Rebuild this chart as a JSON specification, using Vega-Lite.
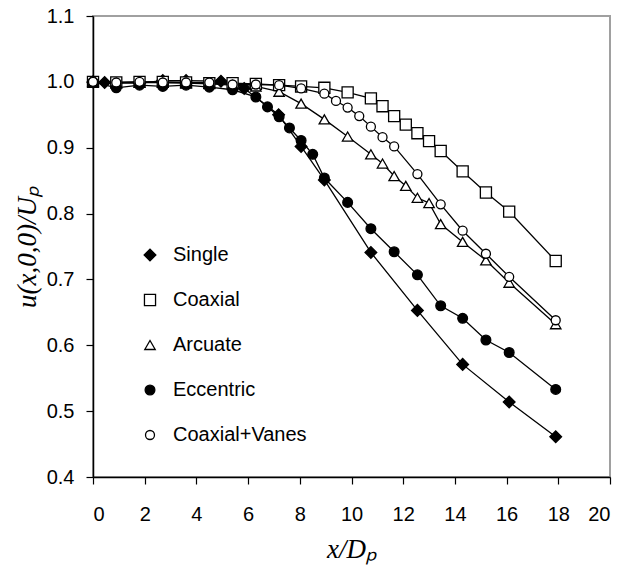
{
  "$schema": "https://vega.github.io/schema/vega-lite/v6.json",
  "autosize": "none",
  "width": 517,
  "height": 461,
  "padding": {"left": 93, "top": 16, "right": 15, "bottom": 90},
  "background": "white",
  "config": {
    "view": {"stroke": "#a0a0a0", "strokeWidth": 2},
    "axis": {
      "domainColor": "black", "domainWidth": 1.5, "tickColor": "black", "tickWidth": 1.2, "tickSize": 7,
      "labelFont": "Liberation Sans", "labelFontSize": 20, "labelColor": "black",
      "titleFont": "Liberation Serif", "titleFontStyle": "italic", "titleFontWeight": "normal", "titleFontSize": 27, "titleColor": "black",
      "grid": false
    }
  },
  "data": {"values": [
    {"series": "Single", "x": 0, "y": 1.0},
    {"series": "Single", "x": 0.45, "y": 0.999},
    {"series": "Single", "x": 1.8, "y": 0.998},
    {"series": "Single", "x": 2.7, "y": 1.002},
    {"series": "Single", "x": 3.6, "y": 1.002},
    {"series": "Single", "x": 4.95, "y": 1.001},
    {"series": "Single", "x": 5.85, "y": 0.990},
    {"series": "Single", "x": 7.18, "y": 0.950},
    {"series": "Single", "x": 8.05, "y": 0.902},
    {"series": "Single", "x": 8.95, "y": 0.851},
    {"series": "Single", "x": 10.75, "y": 0.741},
    {"series": "Single", "x": 12.55, "y": 0.653},
    {"series": "Single", "x": 14.3, "y": 0.571},
    {"series": "Single", "x": 16.1, "y": 0.514},
    {"series": "Single", "x": 17.9, "y": 0.461},
    {"series": "Coaxial", "x": 0, "y": 1.0},
    {"series": "Coaxial", "x": 0.9, "y": 0.999},
    {"series": "Coaxial", "x": 1.8, "y": 1.0},
    {"series": "Coaxial", "x": 2.7, "y": 1.0},
    {"series": "Coaxial", "x": 3.6, "y": 0.999},
    {"series": "Coaxial", "x": 4.5, "y": 0.998},
    {"series": "Coaxial", "x": 5.4, "y": 0.998},
    {"series": "Coaxial", "x": 6.3, "y": 0.997},
    {"series": "Coaxial", "x": 7.2, "y": 0.995},
    {"series": "Coaxial", "x": 8.05, "y": 0.993},
    {"series": "Coaxial", "x": 8.95, "y": 0.991},
    {"series": "Coaxial", "x": 9.85, "y": 0.984},
    {"series": "Coaxial", "x": 10.75, "y": 0.975},
    {"series": "Coaxial", "x": 11.2, "y": 0.963},
    {"series": "Coaxial", "x": 11.65, "y": 0.948},
    {"series": "Coaxial", "x": 12.1, "y": 0.935},
    {"series": "Coaxial", "x": 12.55, "y": 0.922},
    {"series": "Coaxial", "x": 13.0, "y": 0.910},
    {"series": "Coaxial", "x": 13.45, "y": 0.895},
    {"series": "Coaxial", "x": 14.3, "y": 0.864},
    {"series": "Coaxial", "x": 15.2, "y": 0.832},
    {"series": "Coaxial", "x": 16.1, "y": 0.803},
    {"series": "Coaxial", "x": 17.9, "y": 0.728},
    {"series": "Arcuate", "x": 0, "y": 1.0},
    {"series": "Arcuate", "x": 0.9, "y": 0.998},
    {"series": "Arcuate", "x": 1.8, "y": 0.999},
    {"series": "Arcuate", "x": 2.7, "y": 0.999},
    {"series": "Arcuate", "x": 3.6, "y": 0.998},
    {"series": "Arcuate", "x": 4.5, "y": 0.997},
    {"series": "Arcuate", "x": 5.4, "y": 0.995},
    {"series": "Arcuate", "x": 6.3, "y": 0.993},
    {"series": "Arcuate", "x": 7.2, "y": 0.985},
    {"series": "Arcuate", "x": 8.05, "y": 0.967},
    {"series": "Arcuate", "x": 8.95, "y": 0.943},
    {"series": "Arcuate", "x": 9.85, "y": 0.917},
    {"series": "Arcuate", "x": 10.75, "y": 0.890},
    {"series": "Arcuate", "x": 11.2, "y": 0.876},
    {"series": "Arcuate", "x": 11.65, "y": 0.857},
    {"series": "Arcuate", "x": 12.1, "y": 0.842},
    {"series": "Arcuate", "x": 12.55, "y": 0.824},
    {"series": "Arcuate", "x": 13.0, "y": 0.816},
    {"series": "Arcuate", "x": 13.45, "y": 0.784},
    {"series": "Arcuate", "x": 14.3, "y": 0.757},
    {"series": "Arcuate", "x": 15.2, "y": 0.729},
    {"series": "Arcuate", "x": 16.1, "y": 0.695},
    {"series": "Arcuate", "x": 17.9, "y": 0.632},
    {"series": "Eccentric", "x": 0, "y": 1.0},
    {"series": "Eccentric", "x": 0.9, "y": 0.991},
    {"series": "Eccentric", "x": 1.8, "y": 0.995},
    {"series": "Eccentric", "x": 2.7, "y": 0.993},
    {"series": "Eccentric", "x": 3.6, "y": 0.995},
    {"series": "Eccentric", "x": 4.5, "y": 0.992},
    {"series": "Eccentric", "x": 5.4, "y": 0.988},
    {"series": "Eccentric", "x": 6.3, "y": 0.977},
    {"series": "Eccentric", "x": 6.75, "y": 0.962},
    {"series": "Eccentric", "x": 7.2, "y": 0.947},
    {"series": "Eccentric", "x": 7.6, "y": 0.930},
    {"series": "Eccentric", "x": 8.05, "y": 0.911},
    {"series": "Eccentric", "x": 8.5, "y": 0.890},
    {"series": "Eccentric", "x": 8.95, "y": 0.854},
    {"series": "Eccentric", "x": 9.85, "y": 0.817},
    {"series": "Eccentric", "x": 10.75, "y": 0.777},
    {"series": "Eccentric", "x": 11.65, "y": 0.742},
    {"series": "Eccentric", "x": 12.55, "y": 0.707},
    {"series": "Eccentric", "x": 13.45, "y": 0.660},
    {"series": "Eccentric", "x": 14.3, "y": 0.641},
    {"series": "Eccentric", "x": 15.2, "y": 0.608},
    {"series": "Eccentric", "x": 16.1, "y": 0.589},
    {"series": "Eccentric", "x": 17.9, "y": 0.533},
    {"series": "Coaxial+Vanes", "x": 0, "y": 1.0},
    {"series": "Coaxial+Vanes", "x": 0.9, "y": 0.999},
    {"series": "Coaxial+Vanes", "x": 1.8, "y": 1.0},
    {"series": "Coaxial+Vanes", "x": 2.7, "y": 0.999},
    {"series": "Coaxial+Vanes", "x": 3.6, "y": 0.999},
    {"series": "Coaxial+Vanes", "x": 4.5, "y": 0.999},
    {"series": "Coaxial+Vanes", "x": 5.4, "y": 0.996},
    {"series": "Coaxial+Vanes", "x": 6.3, "y": 0.996},
    {"series": "Coaxial+Vanes", "x": 7.2, "y": 0.995},
    {"series": "Coaxial+Vanes", "x": 8.05, "y": 0.990},
    {"series": "Coaxial+Vanes", "x": 8.95, "y": 0.982},
    {"series": "Coaxial+Vanes", "x": 9.4, "y": 0.971},
    {"series": "Coaxial+Vanes", "x": 9.85, "y": 0.961},
    {"series": "Coaxial+Vanes", "x": 10.3, "y": 0.948},
    {"series": "Coaxial+Vanes", "x": 10.75, "y": 0.932},
    {"series": "Coaxial+Vanes", "x": 11.2, "y": 0.916},
    {"series": "Coaxial+Vanes", "x": 11.65, "y": 0.902},
    {"series": "Coaxial+Vanes", "x": 12.55, "y": 0.860},
    {"series": "Coaxial+Vanes", "x": 13.45, "y": 0.814},
    {"series": "Coaxial+Vanes", "x": 14.3, "y": 0.774},
    {"series": "Coaxial+Vanes", "x": 15.2, "y": 0.739},
    {"series": "Coaxial+Vanes", "x": 16.1, "y": 0.704},
    {"series": "Coaxial+Vanes", "x": 17.9, "y": 0.638}
  ]},
  "encoding": {
    "x": {"field": "x", "type": "quantitative",
      "scale": {"domain": [0, 20], "nice": false, "zero": false},
      "axis": {"values": [0, 2, 4, 6, 8, 10, 12, 14, 16, 18, 20], "labelPadding": 20, "title": "x/Dₚ", "titlePadding": 12}},
    "y": {"field": "y", "type": "quantitative",
      "scale": {"domain": [0.4, 1.1], "nice": false, "zero": false},
      "axis": {"values": [0.4, 0.5, 0.6, 0.7, 0.8, 0.9, 1.0, 1.1], "format": ".1f", "labelPadding": 12, "title": "u(x,0,0)/Uₚ", "titlePadding": 5}}
  },
  "layer": [
    {
      "mark": {"type": "line", "color": "black", "strokeWidth": 1.3},
      "encoding": {"detail": {"field": "series"}}
    },
    {
      "mark": {"type": "point", "filled": true, "stroke": "black", "strokeWidth": 1.3, "opacity": 1},
      "encoding": {
        "shape": {"field": "series", "type": "nominal",
          "scale": {"domain": ["Single", "Coaxial", "Arcuate", "Eccentric", "Coaxial+Vanes"], "range": ["diamond", "square", "triangle-up", "circle", "circle"]},
          "legend": {
            "title": null, "orient": "none", "legendX": 47, "legendY": 229,
            "labelFont": "Liberation Sans", "labelFontSize": 20, "labelColor": "black",
            "labelOffset": 13, "rowPadding": 25, "symbolStrokeWidth": 1.3, "symbolStrokeColor": "black"
          }},
        "fill": {"field": "series", "type": "nominal",
          "scale": {"domain": ["Single", "Coaxial", "Arcuate", "Eccentric", "Coaxial+Vanes"], "range": ["black", "white", "white", "black", "white"]}},
        "size": {"field": "series", "type": "nominal",
          "scale": {"domain": ["Single", "Coaxial", "Arcuate", "Eccentric", "Coaxial+Vanes"], "range": [137, 81, 95, 150, 150]}}
      }
    }
  ]
}
